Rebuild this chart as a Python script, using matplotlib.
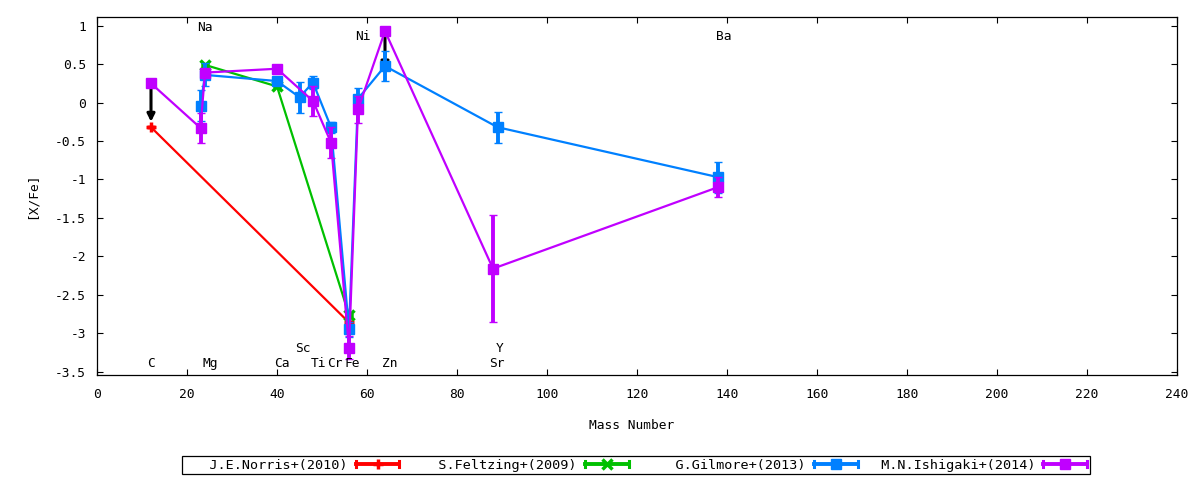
import matplotlib
matplotlib.use("Agg")
import matplotlib.pyplot as plt
from matplotlib.lines import Line2D
from matplotlib.legend_handler import HandlerBase

plt.rcParams['font.family'] = ['DejaVu Sans Mono', 'DejaVu Sans']
plt.rcParams['axes.unicode_minus'] = False

# ---------------- data ----------------
norris_x = [12, 56]
norris_y = [-0.32, -2.86]
norris_err = [0.0, 0.0]

feltzing_x = [24, 40, 56]
feltzing_y = [0.49, 0.21, -2.76]
feltzing_err = [0.0, 0.0, 0.0]

gilmore_x = [23, 24, 40, 45, 48, 52, 56, 58, 64, 89, 138]
gilmore_y = [-0.04, 0.36, 0.28, 0.07, 0.26, -0.32, -2.95, 0.05, 0.475, -0.32, -0.97]
gilmore_err = [0.20, 0.15, 0.05, 0.20, 0.08, 0.07, 0.10, 0.14, 0.19, 0.20, 0.20]

ishigaki_x = [12, 23, 24, 40, 48, 52, 56, 58, 64, 88, 138]
ishigaki_y = [0.25, -0.33, 0.39, 0.44, 0.02, -0.52, -3.19, -0.09, 0.93, -2.16, -1.10]
ishigaki_err = [0.0, 0.20, 0.04, 0.04, 0.20, 0.20, 0.15, 0.18, 0.0, 0.70, 0.13]
ishigaki_upper = [True, False, False, False, False, False, False, False, True, False, False]

series_labels = ["J.E.Norris+(2010)", "S.Feltzing+(2009)",
                 "G.Gilmore+(2013)", "M.N.Ishigaki+(2014)"]

elem_names = ["C", "Na", "Mg", "Ca", "Sc", "Ti", "Cr", "Fe", "Ni", "Zn", "Y", "Sr", "Ba"]
elem_label_x = [12.0, 23.9, 25.1, 41.1, 45.8, 49.3, 52.9, 56.7, 59.1, 65.1, 89.4, 88.9, 139.2]
elem_label_y = [-3.39, 0.98, -3.39, -3.39, -3.20, -3.39, -3.39, -3.39, 0.855, -3.39, -3.20, -3.39, 0.855]

xticks = [0, 20, 40, 60, 80, 100, 120, 140, 160, 180, 200, 220, 240]
yticks = [1, 0.5, 0, -0.5, -1, -1.5, -2, -2.5, -3, -3.5]
ytick_labels = ["1", "0.5", "0", "-0.5", "-1", "-1.5", "-2", "-2.5", "-3", "-3.5"]

# ---------------- styles ----------------
colors = ["#ff0000", "#00c000", "#0080ff", "#c000ff"]
markers = ["+", "x", "s", "s"]
FS = 9.3

fig = plt.figure(figsize=(12, 4.8), dpi=100)
ax = fig.add_axes([97/1200, 1-375/480, 1080/1200, 358/480])

# upper-limit arrows
for x, y, up in zip(ishigaki_x, ishigaki_y, ishigaki_upper):
    if up:
        ax.annotate('', xy=(x, y - 0.5), xytext=(x, y),
                    arrowprops=dict(arrowstyle='-|>', color='black', lw=2.2,
                                    mutation_scale=11, shrinkA=0, shrinkB=0),
                    zorder=1)

datasets = [(norris_x, norris_y, norris_err),
            (feltzing_x, feltzing_y, feltzing_err),
            (gilmore_x, gilmore_y, gilmore_err),
            (ishigaki_x, ishigaki_y, ishigaki_err)]

handles = []
for i, ((xs, ys, es), c, m) in enumerate(zip(datasets, colors, markers)):
    mew = 2.5 if m in "+x" else 1
    ax.errorbar(xs, ys, yerr=es, color=c, lw=1.6, marker=m, ms=7 if m == 's' else 7.5,
                mew=mew, elinewidth=2.8, capsize=2.8, capthick=2.2, zorder=2 + i)
    handles.append(Line2D([], [], color=c, marker=m, mew=mew))

for name, lx, ly in zip(elem_names, elem_label_x, elem_label_y):
    ax.text(lx, ly, name, ha='center', va='center', fontsize=FS, zorder=10)

ax.set_xlim(0, 240)
ax.set_ylim(-3.543, 1.113)
ax.set_xticks(xticks)
ax.set_yticks(yticks)
ax.set_yticklabels(ytick_labels)
ax.tick_params(direction='in', top=True, right=True, length=4, width=0.8,
               labelsize=FS)
ax.tick_params(axis='x', pad=9)
ax.tick_params(axis='y', pad=8)
for s in ax.spines.values():
    s.set_linewidth(0.9)

ax.set_xlabel("Mass Number", fontsize=FS)
ax.xaxis.set_label_coords(0.495, -0.123)
ax.set_ylabel("[X/Fe]", fontsize=FS)
ax.yaxis.set_label_coords(-0.0537, 0.5)


class ErrHandler(HandlerBase):
    def create_artists(self, legend, orig_handle, xdescent, ydescent,
                       width, height, fontsize, trans):
        c = orig_handle.get_color()
        m = orig_handle.get_marker()
        y = (height - ydescent) / 2.0
        x0, x1 = -xdescent, width - xdescent
        h = height * 0.33
        arts = [Line2D([x0, x1], [y, y], color=c, lw=2.8),
                Line2D([x0, x0], [y - h, y + h], color=c, lw=2.2),
                Line2D([x1, x1], [y - h, y + h], color=c, lw=2.2),
                Line2D([(x0 + x1) / 2], [y], color=c, marker=m, ms=7,
                       mew=orig_handle.get_markeredgewidth(), ls='none')]
        for a in arts:
            a.set_transform(trans)
        return arts


maxlen = max(len(s) for s in series_labels) + 1
padded = [" " * (maxlen - len(s)) + s for s in series_labels]
leg = fig.legend(handles, padded, loc='center', bbox_to_anchor=(636/1200, 1-465/480),
                 ncol=4, markerfirst=False, fontsize=9.7, frameon=True, fancybox=False,
                 edgecolor='black', framealpha=1, borderpad=0.2, handlelength=3.25,
                 handletextpad=0.6, columnspacing=1.1, borderaxespad=0,
                 handler_map={Line2D: ErrHandler()})
leg.get_frame().set_linewidth(0.9)

fig.savefig("out.png", dpi=100)
